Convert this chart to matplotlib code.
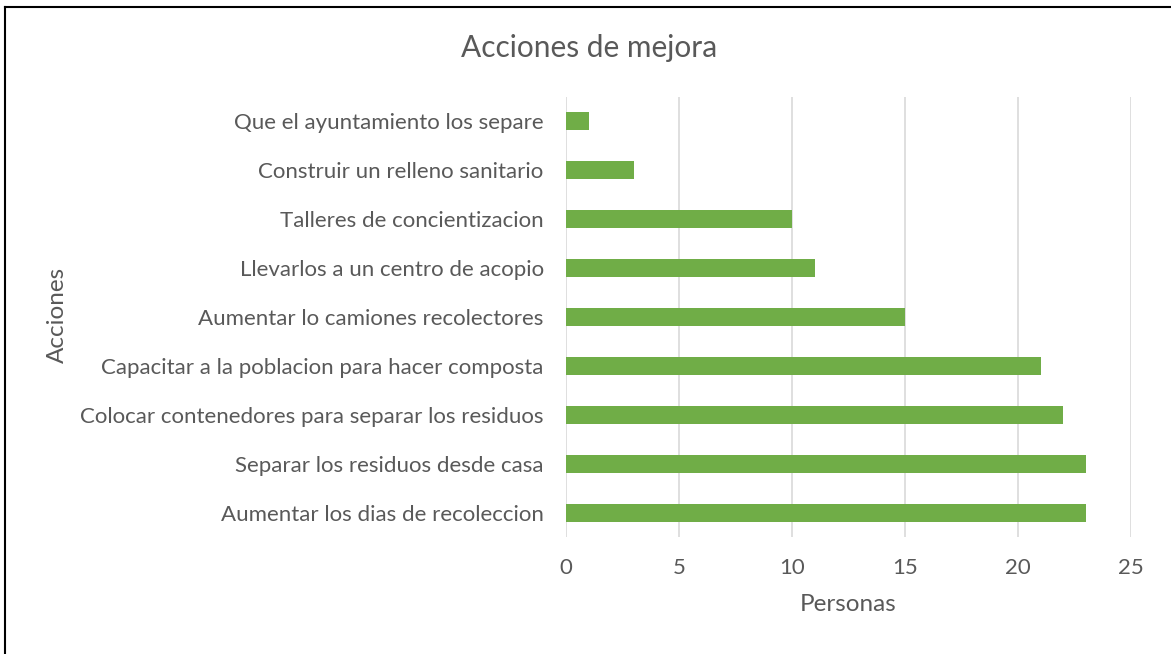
import matplotlib
matplotlib.use('Agg')
import matplotlib.pyplot as plt
from matplotlib.lines import Line2D

# data, bottom to top as drawn
acciones = [
    'Aumentar los dias de recoleccion',
    'Separar los residuos desde casa',
    'Colocar contenedores para separar los residuos',
    'Capacitar a la poblacion para hacer composta',
    'Aumentar lo camiones recolectores',
    'Llevarlos a un centro de acopio',
    'Talleres de concientizacion',
    'Construir un relleno sanitario',
    'Que el ayuntamiento los separe',
]
personas = [23, 23, 22, 21, 15, 11, 10, 3, 1]
x_ticks = [0, 5, 10, 15, 20, 25]

TEXT = '#595959'
plt.rcParams['font.family'] = ['Lato', 'DejaVu Sans']

fig = plt.figure(figsize=(11.71, 6.54), dpi=100)
ax = fig.add_axes([0.4833, 0.1789, 0.4825, 0.6728])

ax.barh(range(len(acciones)), personas, height=0.37, color='#70AD47', zorder=3)
ax.set_xlim(0, 25)
ax.set_ylim(-0.5, len(acciones) - 0.5)
ax.set_xticks(x_ticks)
ax.set_yticks(range(len(acciones)))
ax.set_yticklabels(acciones)
ax.grid(axis='x', color='#D9D9D9', linewidth=1.2, zorder=0)
for s in ax.spines.values():
    s.set_visible(False)
ax.tick_params(length=0, labelsize=16, colors=TEXT)
ax.tick_params(axis='y', pad=16)
ax.tick_params(axis='x', pad=15)

ax.set_xlabel('Personas', fontsize=17.5, color=TEXT, labelpad=12)

fig.text(57 / 1171, 1 - 315 / 654, 'Acciones', rotation=90, fontsize=17.5,
         color=TEXT, ha='center', va='center')
fig.text(589 / 1171, 1 - 48 / 654, 'Acciones de mejora', fontsize=21.5,
         color=TEXT, ha='center', va='center')

# outer border (left and top visible)
fig.add_artist(Line2D([5 / 1171, 5 / 1171], [0, 1 - 7 / 654], color='black', lw=1.5, transform=fig.transFigure))
fig.add_artist(Line2D([5 / 1171, 1], [1 - 7 / 654, 1 - 7 / 654], color='black', lw=1.5, transform=fig.transFigure))

fig.savefig('out.png', dpi=100)
